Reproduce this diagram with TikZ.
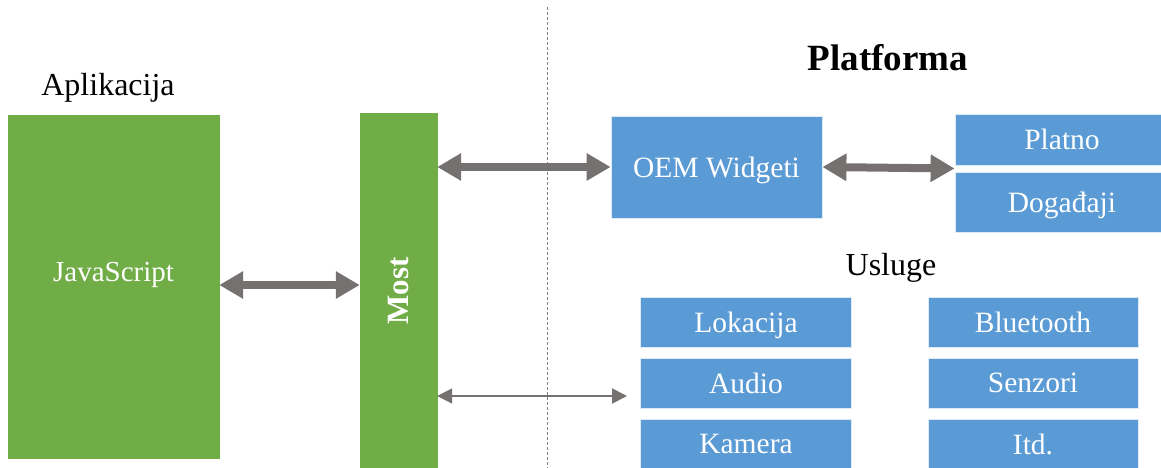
\documentclass[tikz,border=0pt]{standalone}
\usepackage{fontspec}
\setmainfont{Liberation Serif}
\usepackage{tikz}
\usetikzlibrary{calc}
\usetikzlibrary{arrows.meta}
\usetikzlibrary{positioning}

\definecolor{zelena}{HTML}{70AD47}
\definecolor{plava}{HTML}{5B9BD5}
\definecolor{strelica}{HTML}{767171}

\begin{document}
\begin{tikzpicture}[x=1pt, y=-1pt,
    green/.style = {fill=zelena, draw=zelena, text=white, font=\fontsize{29}{32}\selectfont},
    blue/.style = {fill=plava, draw=white!80!plava, line width=0.8pt, text=white, font=\fontsize{29.5}{32}\selectfont, minimum width=211pt, minimum height=50pt, text depth=0pt},
    naslov/.style = {font=\fontsize{32}{35}\selectfont},
    dvostr/.style = {draw=strelica, line width=8pt, {Triangle[length=24pt,width=26pt]}-{Triangle[length=24pt,width=26pt]}},
    jednostr/.style = {draw=strelica, line width=2pt, {Triangle[length=15pt,width=15pt]}-{Triangle[length=15pt,width=15pt]}}]
    \useasboundingbox (0,0) rectangle (1161,468);

    \node[naslov] (apl) at (108, 88) {Aplikacija};
    \node[green, minimum width=211pt, minimum height=343pt] (js) at (113.5, 286.5) {};
    \node[text=white, font=\fontsize{29}{32}\selectfont] (jstxt) at (113.5, 275) {JavaScript};
    \node[green, minimum width=356pt, minimum height=77pt, rotate=90, font=\fontsize{31}{34}\selectfont\bfseries] (most) at (398.5, 291) {Most};

    \draw[dashed, dash pattern=on 3pt off 2pt, draw=gray, line width=0.9pt] (547, 7) -- (547, 468);

    \node[font=\fontsize{37}{40}\selectfont\bfseries] (plat) at (888, 58) {Platforma};
    \node[blue, minimum width=211pt, minimum height=102pt] (oem) at (716.5, 167) {OEM Widgeti};
    \node[blue, minimum width=214pt, minimum height=51pt] (platno) at (1062, 139.5) {Platno};
    \node[blue, minimum width=214pt, minimum height=60pt] (dogadjaji) at (1062, 202) {Događaji};

    \node[naslov] (usluge) at (891, 268) {Usluge};
    \node[blue] (lokacija) at (746, 322) {Lokacija};
    \node[blue] (audio) at (746, 383) {Audio};
    \node[blue] (kamera) at (746, 444) {Kamera};
    \node[blue, minimum width=210pt] (bluetooth) at (1033, 322) {Bluetooth};
    \node[blue, minimum width=210pt] (senzori) at (1033, 383) {Senzori};
    \node[blue, minimum width=210pt] (itd) at (1033, 444) {Itd.};

    \coordinate (usl) at (627, 396);

    \draw[dvostr] (js.east |- 0,285) -- (most.north |- 0,285);
    \draw[dvostr] (most.south |- oem.west) -- (oem.west);
    \draw[dvostr] (oem.east) -- ($(platno.south west)!0.5!(dogadjaji.north west)$);
    \draw[jednostr] (most.south |- usl) -- (usl);

\end{tikzpicture}
\end{document}
